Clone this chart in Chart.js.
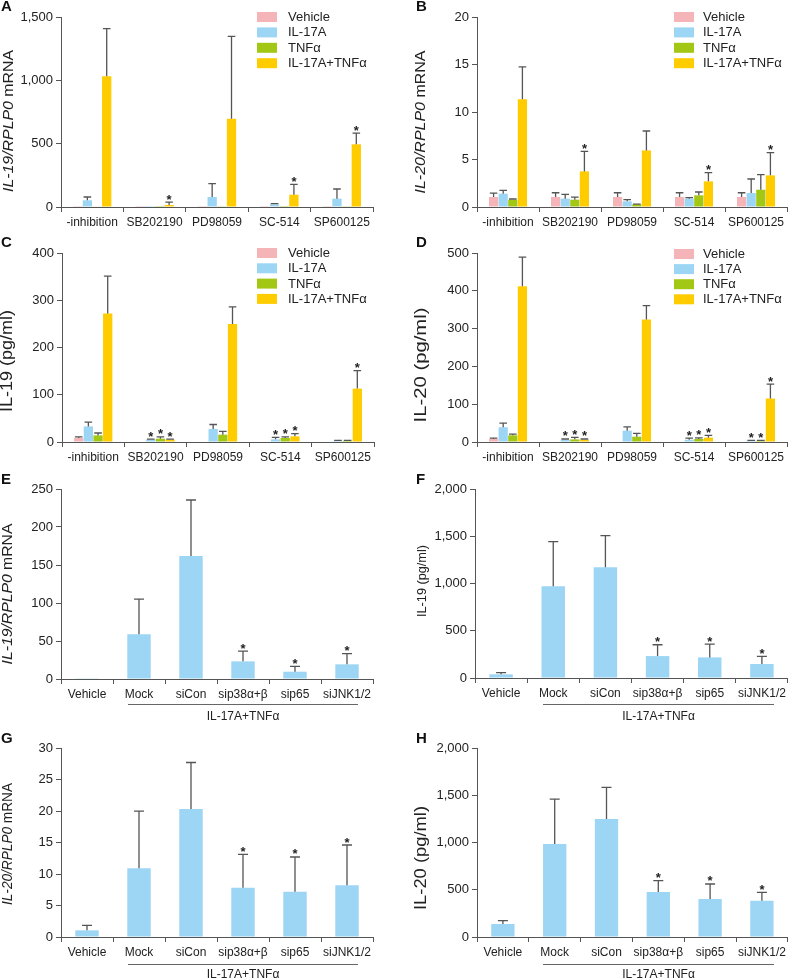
<!DOCTYPE html>
<html><head><meta charset="utf-8">
<script src="https://cdn.jsdelivr.net/npm/chart.js@4.4.1/dist/chart.umd.min.js"></script>
<style>
html,body{margin:0;padding:0;background:#fff;width:789px;height:980px;overflow:hidden}
canvas{position:absolute}
</style></head><body>
<canvas id="cA"></canvas><canvas id="cB"></canvas><canvas id="cC"></canvas><canvas id="cD"></canvas>
<canvas id="cE"></canvas><canvas id="cF"></canvas><canvas id="cG"></canvas><canvas id="cH"></canvas>
<script>
// ---------- categories ----------
const inhibitors = ['-inhibition', 'SB202190', 'PD98059', 'SC-514', 'SP600125'];
const treatments = ['Vehicle', 'IL-17A', 'TNFα', 'IL-17A+TNFα'];
const sirnas = ['Vehicle', 'Mock', 'siCon', 'sip38α+β', 'sip65', 'siJNK1/2'];
const bracketLabel = 'IL-17A+TNFα';

// ---------- Panel A: IL-19/RPLP0 mRNA ----------
const A_vehicle = [1, 1, 1, 1, 1];
const A_il17a = [53, 1, 79, 21, 66];
const A_tnf = [3, 1, 2, 1, 2];
const A_combo = [1032, 16, 697, 97, 495];
const A_vehicle_err = [null, null, null, null, null];
const A_il17a_err = [79, null, 184, 26, 142];
const A_tnf_err = [null, null, null, null, null];
const A_combo_err = [1408, 39, 1347, 179, 584];
const A_combo_sig = [0, 1, 0, 1, 1];

// ---------- Panel B: IL-20/RPLP0 mRNA ----------
const B_vehicle = [1.05, 1.05, 1.05, 1.05, 1.05];
const B_il17a = [1.4, 0.88, 0.6, 0.88, 1.47];
const B_tnf = [0.77, 0.77, 0.28, 1.23, 1.82];
const B_combo = [11.33, 3.75, 5.96, 2.7, 3.33];
const B_vehicle_err = [1.47, 1.5, 1.5, 1.5, 1.5];
const B_il17a_err = [1.75, 1.33, 0.77, 0.98, 2.95];
const B_tnf_err = [0.84, 1.05, 0.3, 1.58, 3.4];
const B_combo_err = [14.74, 5.86, 8.0, 3.61, 5.72];
const B_combo_sig = [0, 1, 0, 1, 1];

// ---------- Panel C: IL-19 (pg/ml) ----------
const C_vehicle = [8.5, 0, 0, 0, 0];
const C_il17a = [33, 5, 27.5, 5.6, 2.5];
const C_tnf = [14, 7, 15.5, 8.5, 2.5];
const C_combo = [272, 5, 250, 12, 113];
const C_vehicle_err = [11, null, null, null, null];
const C_il17a_err = [42, 6, 37, 10, 3.5];
const C_tnf_err = [19, 11, 22.5, 11, 3.5];
const C_combo_err = [351, 6, 286, 17.6, 151];
const C_il17a_sig = [0, 1, 0, 1, 0];
const C_tnf_sig = [0, 1, 0, 1, 0];
const C_combo_sig = [0, 1, 0, 1, 1];

// ---------- Panel D: IL-20 (pg/ml) ----------
const D_vehicle = [8, 0, 0, 0, 0];
const D_il17a = [39, 6, 30, 6, 3.5];
const D_tnf = [17.6, 7, 14, 8, 3.5];
const D_combo = [412, 6, 324, 11.5, 115];
const D_vehicle_err = [10, null, null, null, null];
const D_il17a_err = [50, 8, 40, 10, 4.5];
const D_tnf_err = [21, 12, 23, 11, 4.5];
const D_combo_err = [489, 8, 361, 17.6, 153];
const D_il17a_sig = [0, 1, 0, 1, 1];
const D_tnf_sig = [0, 1, 0, 1, 1];
const D_combo_sig = [0, 1, 0, 1, 1];

// ---------- Panels E-H: siRNA ----------
const E_values = [1, 58.8, 162, 23.2, 9.6, 19.3];
const E_err = [null, 105, 235.5, 36.8, 16.7, 33.3];
const F_values = [39, 972, 1173, 232, 218, 148];
const F_err = [56, 1444, 1507, 352, 359, 229];
const G_values = [1.06, 10.9, 20.3, 7.8, 7.2, 8.2];
const G_err = [1.85, 19.97, 27.7, 13.1, 12.7, 14.6];
const H_values = [138, 984, 1249, 476, 402, 384];
const H_err = [173, 1460, 1584, 596, 561, 473];
const siSig = [0, 0, 0, 1, 1, 1];

// ---------- styles ----------
const FONT = '"Liberation Sans", Arial, Helvetica, sans-serif';
const COLORS = ['#F5B5B8', '#9DD6F4', '#A3C715', '#FFCC00'];
const AXIS = '#555555';
const TXT = '#222222';
const NONE = [0, 0, 0, 0, 0];

function fmt(v) { return String(v).replace(/\B(?=(\d{3})+(?!\d))/g, ','); }

function decorPlugin(cfg) {
  const bx = cfg.box.x, by = cfg.box.y;
  return {
    id: 'decor',
    afterDatasetsDraw(chart) {
      const ctx = chart.ctx, ys = chart.scales.y;
      ctx.save();
      cfg.series.forEach((s, i) => {
        const meta = chart.getDatasetMeta(i);
        s.data.forEach((v, j) => {
          const bar = meta.data[j];
          if (!bar) return;
          const x = bar.x;
          const yv = ys.getPixelForValue(v);
          let top = yv;
          if (s.err && s.err[j] != null) {
            const ye = ys.getPixelForValue(s.err[j]);
            top = ye;
            ctx.strokeStyle = AXIS; ctx.lineWidth = 1.3;
            ctx.beginPath();
            ctx.moveTo(x, yv); ctx.lineTo(x, ye);
            ctx.moveTo(x - cfg.cap, ye); ctx.lineTo(x + cfg.cap, ye);
            ctx.stroke();
          }
          if (s.sig && s.sig[j]) {
            ctx.fillStyle = TXT;
            ctx.font = 'bold 13px ' + FONT;
            ctx.textAlign = 'center'; ctx.textBaseline = 'alphabetic';
            ctx.fillText('*', x, top + 1.5);
          }
        });
      });
      ctx.restore();
    },
    afterDraw(chart) {
      const ctx = chart.ctx;
      ctx.save();
      // panel letter
      ctx.fillStyle = '#111';
      ctx.font = 'bold 15px ' + FONT;
      ctx.textAlign = 'left'; ctx.textBaseline = 'alphabetic';
      ctx.fillText(cfg.letter.t, cfg.letter.x - bx, cfg.letter.y - by);
      // y title
      const t = cfg.title;
      ctx.save();
      ctx.translate(t.cx - bx, t.cy - by);
      ctx.rotate(-Math.PI / 2);
      let W = 0;
      const widths = t.parts.map(p => { ctx.font = p[1] + ' ' + t.size + 'px ' + FONT; const w = ctx.measureText(p[0]).width; W += w; return w; });
      ctx.scale(t.len / W, 1);
      let xx = -W / 2;
      ctx.fillStyle = TXT; ctx.textBaseline = 'middle'; ctx.textAlign = 'left';
      t.parts.forEach((p, k) => { ctx.font = p[1] + ' ' + t.size + 'px ' + FONT; ctx.fillText(p[0], xx, 0); xx += widths[k]; });
      ctx.restore();
      // legend
      if (cfg.legend) {
        const L = cfg.legend;
        treatments.forEach((name, k) => {
          const yc = L.y0 + k * L.dy - by;
          ctx.fillStyle = COLORS[k];
          ctx.fillRect(L.sx - bx, yc - 5, 20, 10);
          ctx.fillStyle = TXT;
          ctx.font = '13px ' + FONT;
          ctx.textAlign = 'left'; ctx.textBaseline = 'middle';
          ctx.fillText(name, L.tx - bx, yc + 0.5);
        });
      }
      // bracket
      if (cfg.bracket) {
        const B = cfg.bracket;
        ctx.strokeStyle = '#666'; ctx.lineWidth = 1;
        ctx.beginPath();
        ctx.moveTo(B.x1 - bx, B.y - by + 0.5); ctx.lineTo(B.x2 - bx, B.y - by + 0.5);
        ctx.stroke();
        ctx.fillStyle = TXT; ctx.font = '12px ' + FONT;
        ctx.textAlign = 'center'; ctx.textBaseline = 'middle';
        ctx.fillText(bracketLabel, (B.x1 + B.x2) / 2 - bx, B.ty - by);
      }
      ctx.restore();
    }
  };
}

function buildChart(id, cfg) {
  const box = cfg.box, area = cfg.area;
  const cv = document.getElementById(id);
  cv.width = box.w; cv.height = box.h;
  cv.style.left = box.x + 'px'; cv.style.top = box.y + 'px';
  cv.style.width = box.w + 'px'; cv.style.height = box.h + 'px';
  new Chart(cv, {
    type: 'bar',
    data: {
      labels: cfg.labels,
      datasets: cfg.series.map(s => ({
        label: s.label, data: s.data, backgroundColor: s.color, borderWidth: 0,
        barPercentage: cfg.barPct, categoryPercentage: cfg.catPct
      }))
    },
    options: {
      responsive: false, animation: false, devicePixelRatio: 1,
      layout: { padding: { left: 0, bottom: 0, top: area.t - box.y, right: box.x + box.w - area.r } },
      plugins: { legend: { display: false }, tooltip: { enabled: false }, title: { display: false } },
      scales: {
        x: {
          type: 'category', offset: true,
          grid: { display: true, offset: true, drawOnChartArea: false, drawTicks: true, tickLength: 5, color: AXIS, lineWidth: 1 },
          border: { display: true, color: AXIS, width: 1 },
          ticks: { font: { family: FONT, size: 12 }, color: TXT, padding: 3, maxRotation: 0, minRotation: 0, autoSkip: false },
          afterFit: s => { s.height = box.y + box.h - area.b; }
        },
        y: {
          min: 0, max: cfg.yMax,
          ticks: { stepSize: cfg.yStep, font: { family: FONT, size: 13 }, color: TXT, padding: 3, callback: v => fmt(v) },
          grid: { display: true, drawOnChartArea: false, drawTicks: true, tickLength: 5, color: AXIS, lineWidth: 1 },
          border: { display: true, color: AXIS, width: 1 },
          afterFit: s => { s.width = area.l - box.x; }
        }
      }
    },
    plugins: [decorPlugin(cfg)]
  });
}

function grouped(v, e, sg) {
  return treatments.map((name, k) => ({ label: name, data: v[k], err: e[k], sig: sg[k], color: COLORS[k] }));
}
const mrna = (g) => [[g + '/RPLP0', 'italic'], [' mRNA', 'normal']];

buildChart('cA', {
  box: { x: 0, y: 0, w: 394, h: 232 }, area: { l: 61, t: 17, r: 373, b: 207 },
  labels: inhibitors, yMax: 1500, yStep: 500, barPct: 0.96, catPct: 0.62, cap: 3.8,
  series: grouped([A_vehicle, A_il17a, A_tnf, A_combo], [A_vehicle_err, A_il17a_err, A_tnf_err, A_combo_err], [NONE, NONE, NONE, A_combo_sig]),
  letter: { t: 'A', x: 1, y: 11 },
  title: { parts: mrna('IL-19'), cx: 9, cy: 121, len: 142, size: 14 },
  legend: { sx: 257, tx: 288, y0: 17, dy: 15.4 }
});
buildChart('cB', {
  box: { x: 394, y: 0, w: 395, h: 232 }, area: { l: 477, t: 17, r: 787, b: 207 },
  labels: inhibitors, yMax: 20, yStep: 5, barPct: 0.96, catPct: 0.62, cap: 3.8,
  series: grouped([B_vehicle, B_il17a, B_tnf, B_combo], [B_vehicle_err, B_il17a_err, B_tnf_err, B_combo_err], [NONE, NONE, NONE, B_combo_sig]),
  letter: { t: 'B', x: 416, y: 11 },
  title: { parts: mrna('IL-20'), cx: 421, cy: 122, len: 143, size: 14 },
  legend: { sx: 674, tx: 703, y0: 17, dy: 15.4 }
});
buildChart('cC', {
  box: { x: 0, y: 232, w: 394, h: 233 }, area: { l: 62, t: 253, r: 374, b: 442 },
  labels: inhibitors, yMax: 400, yStep: 100, barPct: 0.96, catPct: 0.62, cap: 3.8,
  series: grouped([C_vehicle, C_il17a, C_tnf, C_combo], [C_vehicle_err, C_il17a_err, C_tnf_err, C_combo_err], [NONE, C_il17a_sig, C_tnf_sig, C_combo_sig]),
  letter: { t: 'C', x: 1, y: 247 },
  title: { parts: [['IL-19 (pg/ml)', 'normal']], cx: 8, cy: 361, len: 102, size: 16 },
  legend: { sx: 257, tx: 288, y0: 253, dy: 15.3 }
});
buildChart('cD', {
  box: { x: 394, y: 232, w: 395, h: 233 }, area: { l: 477, t: 253, r: 787, b: 442 },
  labels: inhibitors, yMax: 500, yStep: 100, barPct: 0.96, catPct: 0.62, cap: 3.8,
  series: grouped([D_vehicle, D_il17a, D_tnf, D_combo], [D_vehicle_err, D_il17a_err, D_tnf_err, D_combo_err], [NONE, D_il17a_sig, D_tnf_sig, D_combo_sig]),
  letter: { t: 'D', x: 416, y: 247 },
  title: { parts: [['IL-20 (pg/ml)', 'normal']], cx: 421, cy: 365, len: 115, size: 17 },
  legend: { sx: 674, tx: 703, y0: 254, dy: 15.1 }
});
function single(v, e) { return [{ label: bracketLabel, data: v, err: e, sig: siSig, color: COLORS[1] }]; }
buildChart('cE', {
  box: { x: 0, y: 465, w: 394, h: 263 }, area: { l: 61, t: 489, r: 373, b: 679 },
  labels: sirnas, yMax: 250, yStep: 50, barPct: 0.45, catPct: 1, cap: 5,
  series: single(E_values, E_err),
  letter: { t: 'E', x: 1, y: 484 },
  title: { parts: mrna('IL-19'), cx: 8, cy: 594, len: 141, size: 14 },
  bracket: { x1: 128, x2: 358, y: 704, ty: 717 }
});
buildChart('cF', {
  box: { x: 394, y: 465, w: 395, h: 263 }, area: { l: 475, t: 489, r: 788, b: 678 },
  labels: sirnas, yMax: 2000, yStep: 500, barPct: 0.45, catPct: 1, cap: 5,
  series: single(F_values, F_err),
  letter: { t: 'F', x: 416, y: 484 },
  title: { parts: [['IL-19 (pg/ml)', 'normal']], cx: 422, cy: 581, len: 72, size: 13 },
  bracket: { x1: 543, x2: 774, y: 704, ty: 717 }
});
buildChart('cG', {
  box: { x: 0, y: 728, w: 394, h: 252 }, area: { l: 61, t: 748, r: 373, b: 937 },
  labels: sirnas, yMax: 30, yStep: 5, barPct: 0.45, catPct: 1, cap: 5,
  series: single(G_values, G_err),
  letter: { t: 'G', x: 1, y: 743 },
  title: { parts: mrna('IL-20'), cx: 8, cy: 844, len: 122, size: 14 },
  bracket: { x1: 128, x2: 358, y: 964, ty: 975 }
});
buildChart('cH', {
  box: { x: 394, y: 728, w: 395, h: 252 }, area: { l: 477, t: 748, r: 788, b: 937 },
  labels: sirnas, yMax: 2000, yStep: 500, barPct: 0.45, catPct: 1, cap: 5,
  series: single(H_values, H_err),
  letter: { t: 'H', x: 416, y: 743 },
  title: { parts: [['IL-20 (pg/ml)', 'normal']], cx: 422, cy: 858, len: 104, size: 16 },
  bracket: { x1: 543, x2: 774, y: 964, ty: 975 }
});
</script>
</body></html>
